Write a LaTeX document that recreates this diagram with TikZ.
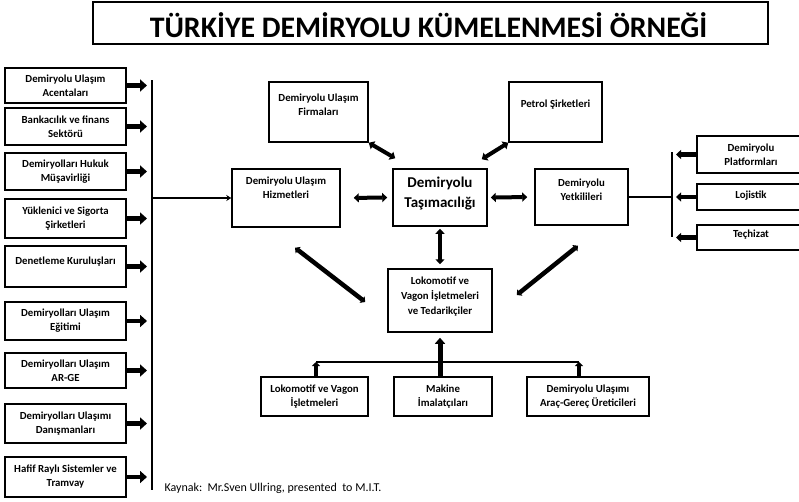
\documentclass[tikz,border=0pt]{standalone}
\usepackage{fontspec}
\setmainfont{Carlito}
\usetikzlibrary{arrows.meta,calc}

\newcommand{\kutuyazi}{\fontsize{10.8}{14}\selectfont\bfseries}

\tikzset{
  kutu/.style={draw, line width=1.5pt, inner sep=0pt, align=center, font=\kutuyazi},
  yazi/.style={align=center, font=\kutuyazi},
  ince/.style={line width=1.5pt},
  kalin/.style={line width=4.5pt, -{Triangle[length=7pt,width=12pt]}},
  sagok/.style={line width=4.5pt, -{Triangle[length=5pt,width=9pt]}},
  altok/.style={line width=4.5pt, -{Triangle[length=4pt,width=8pt]}},
  cift/.style={line width=4pt, {Triangle[length=5pt,width=9pt]}-{Triangle[length=5pt,width=9pt]}},
  capraz/.style={line width=4.5pt, {Triangle[length=4pt,width=8pt]}-{Triangle[length=4pt,width=8pt]}}
}

\begin{document}
\begin{tikzpicture}[x=1pt, y=-1pt]
    \useasboundingbox (0,0) rectangle (799,501);
    \clip (0,0) rectangle (799,501);

    % baslik
    \node[draw, line width=1.5pt, minimum width=675pt, minimum height=42pt] (baslik) at (430.5,23) {};
    \node[font=\fontsize{29.8}{34}\selectfont\bfseries] (basliky) at (428.5,25)
          {TÜRKİYE DEMİRYOLU KÜMELENMESİ ÖRNEĞİ};

    % sol kutular
    \node[kutu, minimum width=121pt, minimum height=35pt] (s1) at (65.5,85.5) {Demiryolu Ulaşım\\Acentaları};
    \node[kutu, minimum width=121pt, minimum height=37pt] (s2) at (65.5,126.5) {Bankacılık ve finans\\Sektörü};
    \node[kutu, minimum width=121pt, minimum height=37pt] (s3) at (65.5,171.5) {Demiryolları Hukuk\\Müşavirliği};
    \node[kutu, minimum width=121pt, minimum height=39pt] (s4) at (65.5,218.5) {Yüklenici ve Sigorta\\Şirketleri};
    \node[kutu, minimum width=121pt, minimum height=41pt] (s5) at (65.5,266.5) {};
    \node[yazi] (s5y) at (65.5,262) {Denetleme Kuruluşları};
    \node[kutu, minimum width=121pt, minimum height=38pt] (s6) at (65.5,321) {Demiryolları Ulaşım\\Eğitimi};
    \node[kutu, minimum width=121pt, minimum height=35pt] (s7) at (65.5,370.5) {Demiryolları Ulaşım\\AR-GE};
    \node[kutu, minimum width=121pt, minimum height=39pt] (s8) at (65.5,423.5) {Demiryolları Ulaşımı\\Danışmanları};
    \node[kutu, minimum width=121pt, minimum height=40pt] (s9) at (65.5,477) {Hafif Raylı Sistemler ve\\Tramvay};

    \coordinate (solUst) at (152,80);
    \coordinate (solAlt) at (152,490);
    \draw[ince] (solUst) -- (solAlt);
    \foreach \k in {s1,s2,s3,s4,s5,s6,s7,s8,s9}
        \draw[kalin, shorten >=5pt] (\k.east) -- (\k.east -| solUst);

    % orta kutular
    \node[kutu, minimum width=108pt, minimum height=58pt] (hiz) at (286,198) {};
    \node[yazi] (hizy) at (286,188) {Demiryolu Ulaşım\\Hizmetleri};
    \node[kutu, minimum width=99pt, minimum height=60pt] (fir) at (318.5,112) {};
    \node[yazi] (firy) at (318.5,105) {Demiryolu Ulaşım\\Firmaları};
    \node[kutu, minimum width=94pt, minimum height=57pt] (mer) at (440,197.5) {};
    \node[align=center, font=\fontsize{15}{20}\selectfont\bfseries] (mery) at (440,194) {Demiryolu\\Taşımacılığı};
    \node[kutu, minimum width=93pt, minimum height=60pt] (pet) at (555.5,112) {};
    \node[yazi] (pety) at (555.5,105) {Petrol Şirketleri};
    \node[kutu, minimum width=93pt, minimum height=56pt] (yet) at (581.5,197) {};
    \node[yazi] (yety) at (581.5,190) {Demiryolu\\Yetkilileri};
    \node[kutu, minimum width=104pt, minimum height=63pt] (lok) at (440,300.5) {};
    \node[yazi, font=\fontsize{10.8}{15}\selectfont\bfseries] (loky) at (440,296.5)
        {Lokomotif ve\\Vagon İşletmeleri\\ve Tedarikçiler};

    \draw[ince, -{Stealth[length=5pt,width=6pt]}] (hiz.west -| solUst) -- (hiz.west);
    \draw[cift, shorten <=13pt, shorten >=5pt] (hiz.east) -- (mer.west);
    \draw[cift, shorten <=3pt, shorten >=7pt] (mer.east) -- (yet.west);
    \draw[cift] (fir.south east) -- ($(mer.north west)+(3,-10)$);
    \draw[cift] ($(mer.north east)+(-6,-9)$) -- (pet.south west);
    \draw[cift, shorten <=2pt, shorten >=4pt] (mer.south) -- (lok.north);
    \draw[capraz] ($(hiz.south)+(9,20)$) -- ($(lok.west)+(-22,1.5)$);
    \draw[capraz] ($(lok.east)+(24,-5.5)$) -- ($(yet.south)+(-3.5,20)$);

    % sag kutular
    \node[kutu, minimum width=108pt, minimum height=37pt] (pla) at (751,154.5) {Demiryolu\\Platformları};
    \node[kutu, minimum width=108pt, minimum height=26pt] (loj) at (751,197) {};
    \node[yazi] (lojy) at (751,196) {Lojistik};
    \node[kutu, minimum width=108pt, minimum height=25pt] (tec) at (751,237.5) {};
    \node[yazi] (tecy) at (751,235) {Teçhizat};

    \coordinate (sagUst) at (672,152);
    \coordinate (sagAlt) at (672,237);
    \draw[ince] (sagUst) -- (sagAlt);
    \draw[ince] (yet.east) -- (yet.east -| sagUst);
    \foreach \k in {pla,loj,tec}
        \draw[sagok, shorten >=4pt] (\k.west) -- (\k.west -| sagUst);

    % alt kutular
    \node[kutu, minimum width=107pt, minimum height=39pt] (alt1) at (314.5,396.5) {Lokomotif ve Vagon\\İşletmeleri};
    \node[kutu, minimum width=98pt, minimum height=39pt] (alt2) at (443,396.5) {Makine\\İmalatçıları};
    \node[kutu, minimum width=122pt, minimum height=39pt] (alt3) at (588,396.5) {Demiryolu Ulaşımı\\Araç-Gereç Üreticileri};

    \coordinate (altSol) at (316,362);
    \coordinate (altSag) at (579,362);
    \draw[ince] (altSol) -- (altSag);
    \draw[altok] (altSol |- alt1.north) -- (altSol);
    \draw[altok] (altSag |- alt3.north) -- (altSag);
    \draw[line width=5pt, -{Triangle[length=6pt,width=10pt]}, shorten >=5pt] (alt2.north -| lok.south) -- (lok.south);

    % kaynak
    \node[anchor=west, font=\fontsize{12}{14}\selectfont] (kaynak) at (161,488)
        {Kaynak:\ \ Mr.Sven Ullring, presented\ \ to M.I.T.};

\end{tikzpicture}
\end{document}
